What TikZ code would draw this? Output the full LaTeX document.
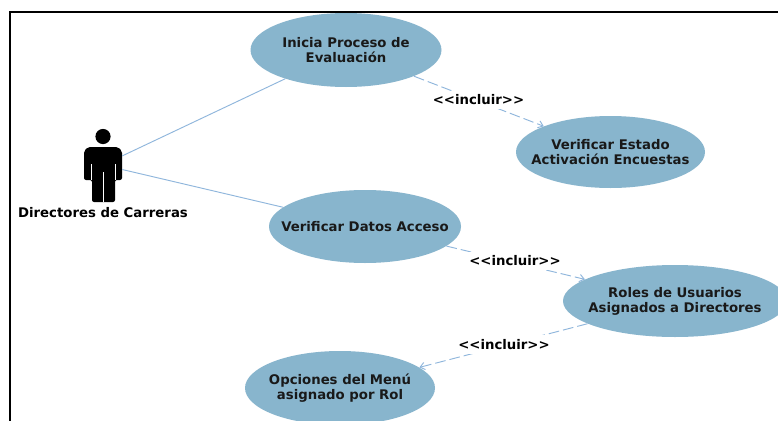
\documentclass[tikz,border=0pt]{standalone}
\usepackage{fontspec}
\setmainfont{DejaVu Sans}
\usetikzlibrary{shapes.geometric,arrows.meta}
\definecolor{uc}{HTML}{88B5CD}
\definecolor{lk}{HTML}{8FB6DC}
\tikzset{
  x=0.75pt,y=-0.75pt,
  usecase/.style={ellipse,fill=uc,inner xsep=-24pt,inner ysep=-4pt,align=center,font=\bfseries\fontsize{9.95}{11.25}\selectfont,text=black!90},
  ucsize/.style n args={2}{minimum width=#1*0.75pt,minimum height=#2*0.75pt},
  assoc/.style={draw=lk,line width=0.7pt},
  incl/.style={draw=lk,line width=0.7pt,dash pattern=on 8pt off 3pt,-{Straight Barb[length=3.5pt,width=5.5pt]}},
  lbl/.style={fill=white,inner xsep=1.5pt,inner ysep=3pt,font=\bfseries\fontsize{9.95}{11}\selectfont},
  actorbox/.style={rectangle,inner sep=0pt,minimum width=38*0.75pt,minimum height=74*0.75pt}
}
\begin{document}
\begin{tikzpicture}
\useasboundingbox (0,0) rectangle (778,421);
\clip (0,0) rectangle (778,421);
\fill[white] (0,0) rectangle (778,421);
\draw[black,line width=1.5pt] (9.5,440) -- (9.5,11.5) -- (790,11.5);
% nodes
\node[usecase,ucsize={191}{74}] (a) at (346,50) {Inicia Proceso de\\Evaluación};
\node[usecase,ucsize={189}{72}] (b) at (610.5,152) {Verificar Estado\\Activación Encuestas};
\node[usecase,ucsize={192}{73}] (c) at (365,226.5) {Verificar Datos Acceso};
\node[usecase,ucsize={224}{72}] (d) at (675,301) {Roles de Usuarios\\Asignados a Directores};
\node[usecase,ucsize={190}{74}] (e) at (340,388) {Opciones del Menú\\asignado por Rol};
\node[actorbox] (act) at (103,165) {};
% actor figure
\fill[black] (103,136.5) circle[radius=7.6*0.75pt];
\fill[black,rounded corners=1.5pt] (84,180) -- (84,151) -- (88,147) -- (118,147) -- (122,151) -- (122,180) -- (115,180) -- (115,202) -- (92,202) -- (92,180) -- cycle;
\draw[white,line width=0.35pt] (91.5,164) -- (91.5,180) (115,164) -- (115,180) (103.5,172) -- (103.5,202);
\node[font=\bfseries\fontsize{9.95}{11}\selectfont,inner sep=0pt] (actl) at (103,213) {Directores de Carreras};
% connectors
\draw[assoc] (act) -- (a);
\draw[assoc] (act) -- (c);
\draw[incl] (a) -- (b);
\draw[incl] (c) -- (d);
\draw[incl] (d) -- (e);
\node[lbl] (l1) at (478.5,100) {<{}<incluir>{}>};
\node[lbl] (l2) at (515,261) {<{}<incluir>{}>};
\node[lbl] (l3) at (504,344.5) {<{}<incluir>{}>};
\end{tikzpicture}
\end{document}
